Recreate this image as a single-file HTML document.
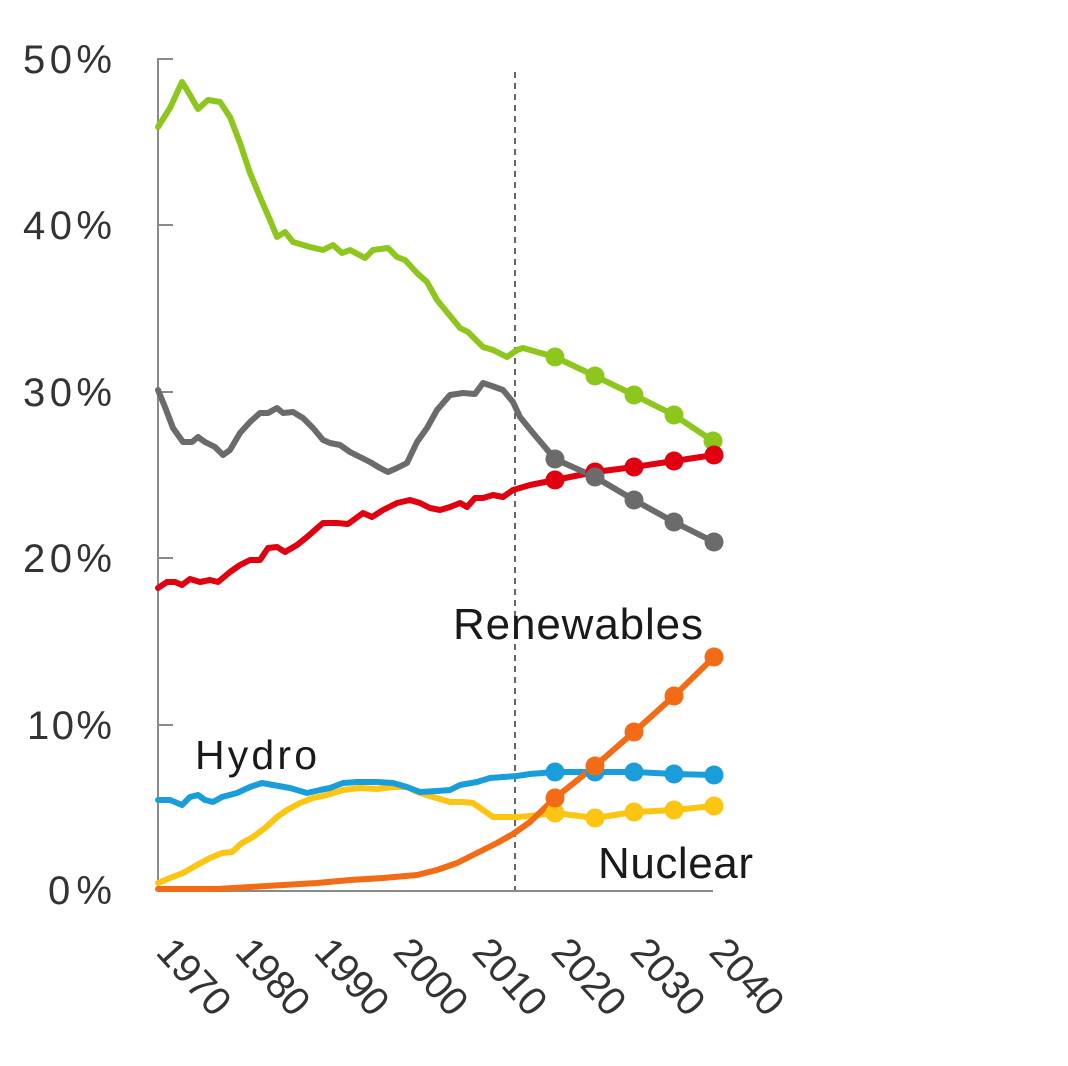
<!DOCTYPE html>
<html>
<head>
<meta charset="utf-8">
<style>
  html, body { margin:0; padding:0; background:#fff; }
  svg { display:block; }
  text { font-family: "Liberation Sans", Arial, sans-serif; }
</style>
</head>
<body>
<svg width="1068" height="1066" viewBox="0 0 1068 1066" xmlns="http://www.w3.org/2000/svg">
  <rect width="1068" height="1066" fill="#ffffff"/>

  <!-- Y axis labels -->
  <g fill="#333333" font-size="40" text-anchor="end">
    <text x="112" y="73" textLength="89" lengthAdjust="spacing">50%</text>
    <text x="112" y="239" textLength="89" lengthAdjust="spacing">40%</text>
    <text x="112" y="406" textLength="89" lengthAdjust="spacing">30%</text>
    <text x="112" y="572" textLength="89" lengthAdjust="spacing">20%</text>
    <text x="112" y="739" textLength="85" lengthAdjust="spacing">10%</text>
    <text x="112" y="904" textLength="64" lengthAdjust="spacing">0%</text>
  </g>

  <!-- Axes -->
  <g stroke="#8a8a8a" stroke-width="2" fill="none">
    <line x1="158" y1="58" x2="158" y2="891"/>
    <line x1="157" y1="891" x2="713" y2="891"/>
    <line x1="158" y1="59" x2="173" y2="59"/>
    <line x1="158" y1="225" x2="173" y2="225"/>
    <line x1="158" y1="392" x2="173" y2="392"/>
    <line x1="158" y1="558" x2="173" y2="558"/>
    <line x1="158" y1="725" x2="173" y2="725"/>
  </g>

  <!-- Dashed divider -->
  <line x1="515" y1="72" x2="515" y2="890" stroke="#555" stroke-width="1.8" stroke-dasharray="6 5"/>

  <g fill="none" stroke-width="6" stroke-linejoin="round" stroke-linecap="round">
    <!-- Oil (green) -->
    <polyline stroke="#8dc71e" points="158,127 170,108 182,82 190,95 198,109 208,100 220,102 230,117 240,143 250,173 260,197 270,220 277,237 285,232 293,242 310,247 323,250 333,245 342,253 350,250 365,258 373,250 388,248 397,257 405,260 417,273 427,282 437,300 460,328 468,332 483,347 493,350 507,357 517,350 523,348 537,352 555,357 595,376 634,395 674,415 713,441"/>
    <!-- Gas (red) -->
    <polyline stroke="#e0000f" points="158,588 167,582 175,582 182,585 190,579 200,582 210,580 218,582 230,572 240,565 250,560 260,560 268,548 277,547 285,552 297,545 307,537 323,523 337,523 348,524 363,513 372,517 383,510 397,503 410,500 420,503 430,508 440,510 450,507 460,503 467,507 475,498 483,498 493,495 503,497 513,490 530,485 555,480 595,472 634,467 674,461 714,455"/>
    <!-- Coal (gray) -->
    <polyline stroke="#6b6b6b" points="158,390 165,407 173,428 183,442 192,442 198,437 205,442 215,447 223,455 230,450 240,433 250,422 260,413 268,413 277,408 283,413 293,412 303,418 313,428 323,440 330,443 340,445 350,452 360,457 370,462 380,468 388,472 397,468 407,463 417,442 427,428 437,410 450,395 463,393 475,394 483,383 492,386 503,390 513,402 520,417 533,433 555,459 595,477 634,500 674,522 714,542"/>
    <!-- Nuclear (yellow) -->
    <polyline stroke="#fbc512" points="158,883 170,878 183,873 197,865 210,858 222,853 232,852 242,843 253,837 265,828 277,817 287,810 300,803 313,798 327,795 343,790 360,788 377,789 393,787 407,787 417,792 433,797 450,802 463,802 473,803 483,810 493,817 503,817 517,817 530,816 555,813 595,818 634,812 674,810 714,806"/>
    <!-- Hydro (blue) -->
    <polyline stroke="#1a9edb" points="158,800 170,800 182,805 190,797 198,795 205,800 213,802 222,797 237,793 250,787 262,783 273,785 290,788 307,793 320,790 330,788 343,783 357,782 377,782 393,783 407,787 420,792 437,791 450,790 460,785 477,782 490,778 503,777 517,776 530,774 555,772 595,772 634,772 674,774 714,775"/>
    <!-- Renewables (orange) -->
    <polyline stroke="#f36b14" points="158,889 217,889 250,887 283,885 317,883 350,880 383,878 417,875 437,870 457,863 477,853 497,843 513,834 530,822 555,798 595,766 634,732 674,696 714,657"/>
  </g>

  <!-- Dots -->
  <g fill="#8dc71e">
    <circle cx="555" cy="357" r="9.5"/><circle cx="595" cy="376" r="9.5"/><circle cx="634" cy="395" r="9.5"/><circle cx="674" cy="415" r="9.5"/><circle cx="713" cy="441" r="9.5"/>
  </g>
  <g fill="#e0000f">
    <circle cx="555" cy="480" r="9.5"/><circle cx="595" cy="472" r="9.5"/><circle cx="634" cy="467" r="9.5"/><circle cx="674" cy="461" r="9.5"/><circle cx="714" cy="455" r="9.5"/>
  </g>
  <g fill="#6b6b6b">
    <circle cx="555" cy="459" r="9.5"/><circle cx="595" cy="477" r="9.5"/><circle cx="634" cy="500" r="9.5"/><circle cx="674" cy="522" r="9.5"/><circle cx="714" cy="542" r="9.5"/>
  </g>
  <g fill="#fbc512">
    <circle cx="555" cy="813" r="9.5"/><circle cx="595" cy="818" r="9.5"/><circle cx="634" cy="812" r="9.5"/><circle cx="674" cy="810" r="9.5"/><circle cx="714" cy="806" r="9.5"/>
  </g>
  <g fill="#1a9edb">
    <circle cx="555" cy="772" r="9.5"/><circle cx="595" cy="772" r="9.5"/><circle cx="634" cy="772" r="9.5"/><circle cx="674" cy="774" r="9.5"/><circle cx="714" cy="775" r="9.5"/>
  </g>
  <g fill="#f36b14">
    <circle cx="555" cy="798" r="9.5"/><circle cx="595" cy="766" r="9.5"/><circle cx="634" cy="732" r="9.5"/><circle cx="674" cy="696" r="9.5"/><circle cx="714" cy="657" r="9.5"/>
  </g>

  <!-- Series labels -->
  <g fill="#1a1a1a">
    <text x="195" y="769" font-size="41" textLength="122" lengthAdjust="spacing">Hydro</text>
    <text x="453" y="639" font-size="44" textLength="250" lengthAdjust="spacing">Renewables</text>
    <text x="598" y="878" font-size="44" textLength="155" lengthAdjust="spacing">Nuclear</text>
  </g>

  <!-- X axis labels (rotated) -->
  <g fill="#333333" font-size="40" text-anchor="middle">
    <text transform="translate(194.5,976.5) rotate(48)" x="0" y="14" textLength="88" lengthAdjust="spacing">1970</text>
    <text transform="translate(273.5,976.5) rotate(48)" x="0" y="14" textLength="88" lengthAdjust="spacing">1980</text>
    <text transform="translate(352.5,976.5) rotate(48)" x="0" y="14" textLength="88" lengthAdjust="spacing">1990</text>
    <text transform="translate(431.5,976.5) rotate(48)" x="0" y="14" textLength="88" lengthAdjust="spacing">2000</text>
    <text transform="translate(510.5,976.5) rotate(48)" x="0" y="14" textLength="88" lengthAdjust="spacing">2010</text>
    <text transform="translate(589.5,976.5) rotate(48)" x="0" y="14" textLength="88" lengthAdjust="spacing">2020</text>
    <text transform="translate(668.5,976.5) rotate(48)" x="0" y="14" textLength="88" lengthAdjust="spacing">2030</text>
    <text transform="translate(747.5,976.5) rotate(48)" x="0" y="14" textLength="88" lengthAdjust="spacing">2040</text>
  </g>
</svg>
</body>
</html>
